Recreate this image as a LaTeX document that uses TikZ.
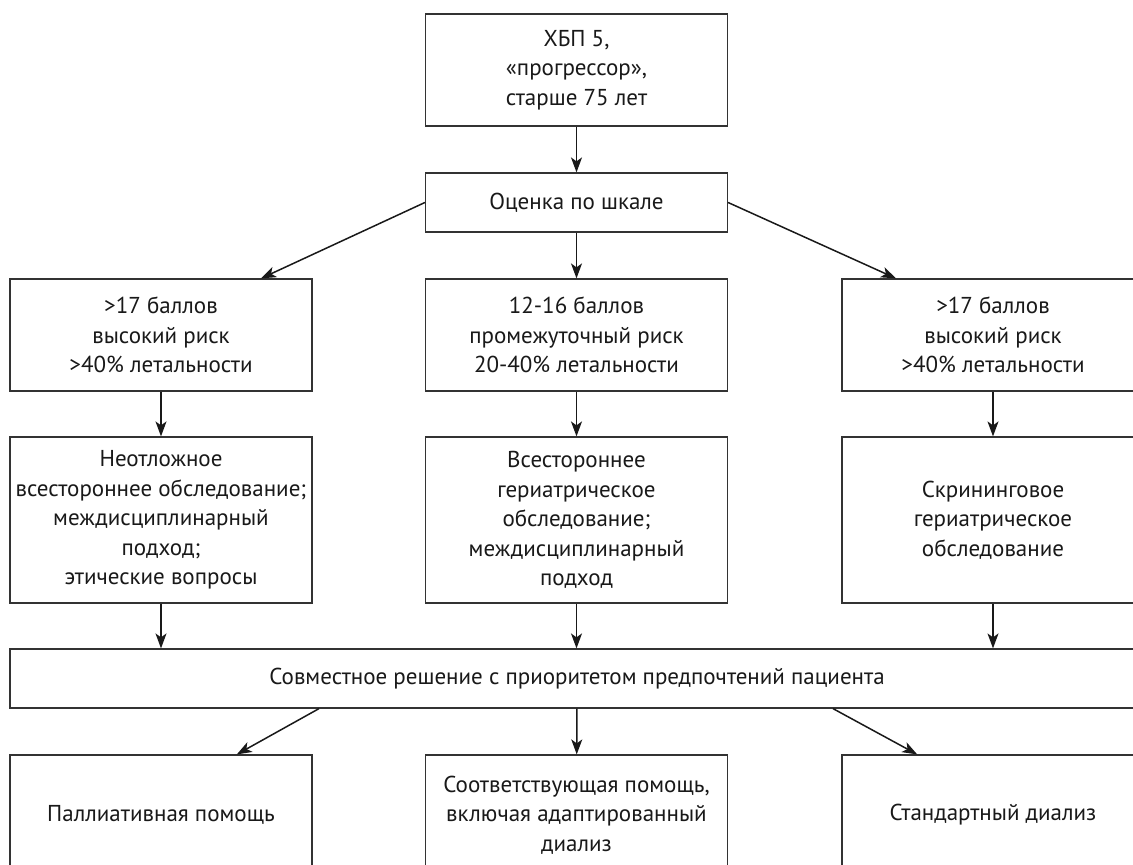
\documentclass[tikz,border=0pt]{standalone}
\usepackage{fontspec}
\setmainfont{PT Sans}
\usetikzlibrary{arrows.meta,calc}
\begin{document}
\begin{tikzpicture}[
      x=1pt, y=-1pt,
      every node/.style={font=\fontsize{23}{29.5}\selectfont, text=black!90},
      box/.style={rectangle, draw=black!80, line width=1.2pt, fill=white,
                  minimum width=302pt, align=center, inner sep=0pt},
      wide/.style={box, minimum width=1134pt, minimum height=59pt},
      arr/.style={-{Stealth[length=15pt, width=11pt, inset=4pt]},
                  line width=1.5pt, black!90},
    ]

    \clip (0,0) rectangle (1133,865);

    % top
    \node[box, minimum height=112pt] (start) at (576.5,70)
      {ХБП 5,\\«прогрессор»,\\старше 75 лет};

    \node[box, minimum height=59pt] (score) at (576.5,202.5)
      {Оценка по шкале};

    % risk groups
    \node[box, minimum height=112pt] (highL) at (161,335)
      {>17 баллов\\высокий риск\\>40\% летальности};
    \node[box, minimum height=112pt] (mid) at (576.5,335)
      {12-16 баллов\\промежуточный риск\\20-40\% летальности};
    \node[box, minimum height=112pt] (highR) at (993,335)
      {>17 баллов\\высокий риск\\>40\% летальности};

    % assessment
    \node[box, minimum height=166pt] (urgent) at (161,520)
      {Неотложное\\всестороннее обследование;\\междисциплинарный\\подход;\\этические вопросы};
    \node[box, minimum height=166pt] (geri) at (576.5,520)
      {Всестороннее\\гериатрическое\\обследование;\\междисциплинарный\\подход};
    \node[box, minimum height=166pt] (screen) at (993,520)
      {Скрининговое\\гериатрическое\\обследование};

    % decision
    \node[wide] (joint) at (577,678.5)
      {Совместное решение с приоритетом предпочтений пациента};

    % outcomes
    \node[box, minimum height=120pt] (pall) at (161,815)
      {Паллиативная помощь};
    \node[box, minimum height=120pt] (adapt) at (576.5,815)
      {Соответствующая помощь,\\включая адаптированный\\диализ};
    \node[box, minimum height=120pt] (std) at (993,815)
      {Стандартный диализ};

    \draw[arr] (start) -- (score);
    \draw[arr] (score.west) -- ($(highL.north)!0.66!(highL.north east)$);
    \draw[arr] (score) -- (mid);
    \draw[arr] (score.east) -- ($(highR.north)!0.64!(highR.north west)$);

    \draw[arr] (highL) -- (urgent);
    \draw[arr] (mid) -- (geri);
    \draw[arr] (highR) -- (screen);

    \draw[arr] (urgent) -- (urgent |- joint.north);
    \draw[arr] (geri) -- (geri |- joint.north);
    \draw[arr] (screen) -- (screen |- joint.north);

    \draw[arr] ($(joint.south)+(-258,0)$) -- ($(pall.north)!0.5!(pall.north east)$);
    \draw[arr] (joint) -- (adapt);
    \draw[arr] ($(joint.south)+(256,0)$) -- ($(std.north)!0.5!(std.north west)$);

  \end{tikzpicture}
\end{document}
